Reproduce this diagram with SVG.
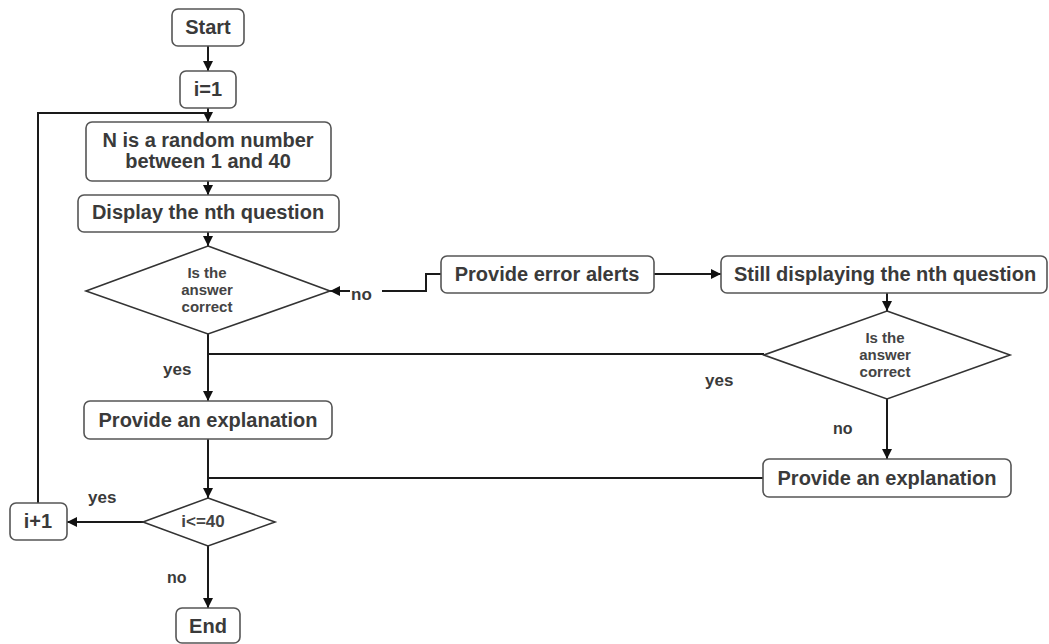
<svg xmlns="http://www.w3.org/2000/svg" width="1049" height="644" viewBox="0 0 1049 644">
<style>
.box{fill:#fff;stroke:#555;stroke-width:1.6}
.dia{fill:#fff;stroke:#333;stroke-width:1.6}
.t{font-family:"Liberation Sans",Arial,sans-serif;font-weight:bold;font-size:20px;fill:#3a3a3a;text-anchor:middle}
.d{font-family:"Liberation Sans",Arial,sans-serif;font-weight:bold;font-size:15px;fill:#444;text-anchor:middle}
.l{font-family:"Liberation Sans",Arial,sans-serif;font-weight:bold;font-size:17px;fill:#3a3a3a}
.c{fill:none;stroke:#1a1a1a;stroke-width:2}
</style>
<defs>
<marker id="ah" markerWidth="10" markerHeight="10" refX="10" refY="5" orient="auto" markerUnits="userSpaceOnUse">
<path d="M0,0 L10,5 L0,10 z" fill="#111"/>
</marker>
</defs>
<rect width="1049" height="644" fill="#fff"/>
<g id="connectors">
<path class="c" d="M208,46 V71" marker-end="url(#ah)"/>
<path class="c" d="M208,108 V122" marker-end="url(#ah)"/>
<path class="c" d="M38,503 V113 H208"/>
<path class="c" d="M208,181 V195" marker-end="url(#ah)"/>
<path class="c" d="M208,232 V246" marker-end="url(#ah)"/>
<path class="c" d="M441,274 H426 V291 H330" marker-end="url(#ah)"/>
<path class="c" d="M654,274 H721" marker-end="url(#ah)"/>
<path class="c" d="M887,293 V311" marker-end="url(#ah)"/>
<path class="c" d="M208,334 V401" marker-end="url(#ah)"/>
<path class="c" d="M764,354 H208"/>
<path class="c" d="M887,399 V459" marker-end="url(#ah)"/>
<path class="c" d="M208,439 V498" marker-end="url(#ah)"/>
<path class="c" d="M763,478 H208"/>
<path class="c" d="M143,522 H67" marker-end="url(#ah)"/>
<path class="c" d="M208,546 V608" marker-end="url(#ah)"/>
<rect x="350" y="290" width="32" height="13" fill="#fff"/>
<text class="l" x="351" y="300">no</text>
<text class="l" x="163" y="375">yes</text>
<text class="l" x="705" y="386">yes</text>
<text class="l" x="833" y="434" style="font-size:16px">no</text>
<text class="l" x="88" y="503">yes</text>
<text class="l" x="167" y="583" style="font-size:16px">no</text>
</g>
<g id="start"><rect class="box" x="172" y="9" width="72" height="37" rx="6"/><text class="t" x="208" y="34">Start</text></g>
<g id="init"><rect class="box" x="180" y="71" width="56" height="37" rx="6"/><text class="t" x="208" y="96">i=1</text></g>
<g id="random"><rect class="box" x="86" y="122" width="245" height="59" rx="6"/><text class="t" x="208" y="147">N is a random number</text><text class="t" x="208" y="168">between 1 and 40</text></g>
<g id="display"><rect class="box" x="78" y="195" width="261" height="37" rx="6"/><text class="t" x="208" y="219">Display the nth question</text></g>
<g id="check1"><polygon class="dia" points="208,246 330,291 208,334 86,291"/><text class="d" x="207" y="278">Is the</text><text class="d" x="207" y="295">answer</text><text class="d" x="207" y="312">correct</text></g>
<g id="error"><rect class="box" x="441" y="256" width="213" height="37" rx="6"/><text class="t" x="547" y="281">Provide error alerts</text></g>
<g id="still"><rect class="box" x="721" y="256" width="326" height="37" rx="6"/><text class="t" x="885" y="281">Still displaying the nth question</text></g>
<g id="check2"><polygon class="dia" points="887,311 1010,355 887,399 764,355"/><text class="d" x="885" y="343">Is the</text><text class="d" x="885" y="360">answer</text><text class="d" x="885" y="377">correct</text></g>
<g id="explain1"><rect class="box" x="84" y="401" width="248" height="38" rx="6"/><text class="t" x="208" y="427">Provide an explanation</text></g>
<g id="explain2"><rect class="box" x="763" y="459" width="248" height="38" rx="6"/><text class="t" x="887" y="485">Provide an explanation</text></g>
<g id="loopcheck"><polygon class="dia" points="208,498 275,522 208,546 143,522"/><text class="d" x="203" y="527" style="font-size:17px">i&lt;=40</text></g>
<g id="incr"><rect class="box" x="10" y="503" width="57" height="37" rx="6"/><text class="t" x="38" y="528">i+1</text></g>
<g id="end"><rect class="box" x="176" y="608" width="64" height="35" rx="6"/><text class="t" x="208" y="633">End</text></g>
</svg>
